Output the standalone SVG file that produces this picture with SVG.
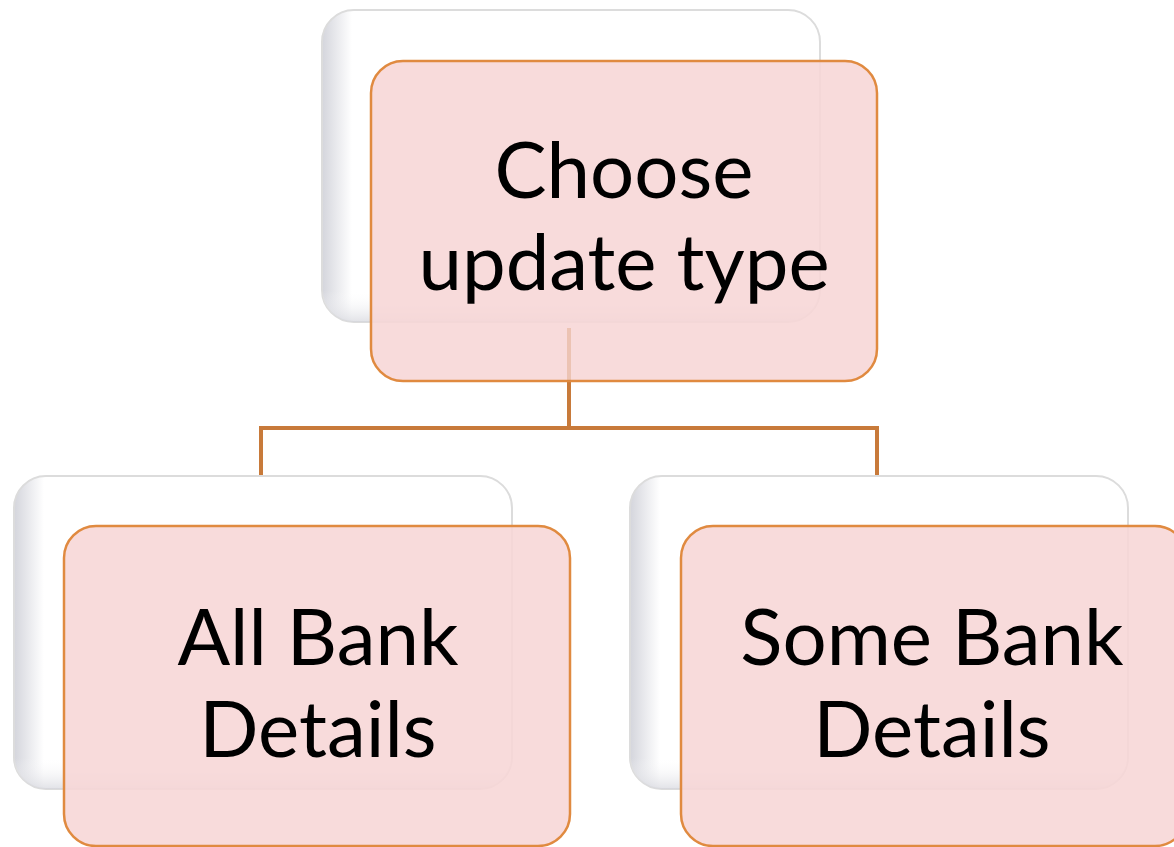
<svg xmlns="http://www.w3.org/2000/svg" width="1174" height="847" viewBox="0 0 1174 847">
<defs>
<linearGradient id="bevel" x1="0" y1="0" x2="1" y2="0">
<stop offset="0" stop-color="#d4d5dc"/>
<stop offset="0.06" stop-color="#ffffff"/>
<stop offset="1" stop-color="#ffffff"/>
</linearGradient>
<linearGradient id="bevelV" x1="0" y1="0" x2="0" y2="1">
<stop offset="0.9" stop-color="#ffffff" stop-opacity="0"/>
<stop offset="1" stop-color="#d4d5dc" stop-opacity="0.7"/>
</linearGradient>
</defs>
<style>
.back{fill:url(#bevel);stroke:#dcdcdc;stroke-width:2}
.backv{fill:url(#bevelV);stroke:none}
.front{fill:#f7d6d6;fill-opacity:0.88;stroke:#e08a40;stroke-width:2.5}
.lbl{font-family:Lato,"Open Sans","Liberation Sans",sans-serif;font-size:78px;fill:#000;text-anchor:middle}
.conn{fill:none;stroke:#c87a3a;stroke-width:4}
</style>
<rect width="1174" height="847" fill="#ffffff"/>
<g id="connectors">
<path class="conn" d="M569 380 V428 M261 428 H877 M261 426 V475 M877 426 V475"/>
</g>
<g id="node-top">
<rect class="back" x="322" y="10" width="498" height="312" rx="32"/>
<rect class="backv" x="322" y="10" width="498" height="312" rx="32"/>
<rect class="front" x="371" y="61" width="506" height="320" rx="32"/>
<line x1="569" y1="328" x2="569" y2="381" stroke="#c87a3a" stroke-width="4" stroke-opacity="0.25"/>
<text class="lbl" x="624" y="198">Choose</text>
<text class="lbl" x="624" y="290">update type</text>
</g>
<g id="node-left">
<rect class="back" x="14" y="476" width="498" height="313" rx="32"/>
<rect class="backv" x="14" y="476" width="498" height="313" rx="32"/>
<rect class="front" x="64" y="526" width="506" height="320" rx="32"/>
<text class="lbl" x="318" y="665">All Bank</text>
<text class="lbl" x="318" y="757">Details</text>
</g>
<g id="node-right">
<rect class="back" x="630" y="476" width="498" height="313" rx="32"/>
<rect class="backv" x="630" y="476" width="498" height="313" rx="32"/>
<rect class="front" x="681" y="526" width="506" height="320" rx="32"/>
<text class="lbl" x="932" y="665">Some Bank</text>
<text class="lbl" x="932" y="757">Details</text>
</g>
</svg>
